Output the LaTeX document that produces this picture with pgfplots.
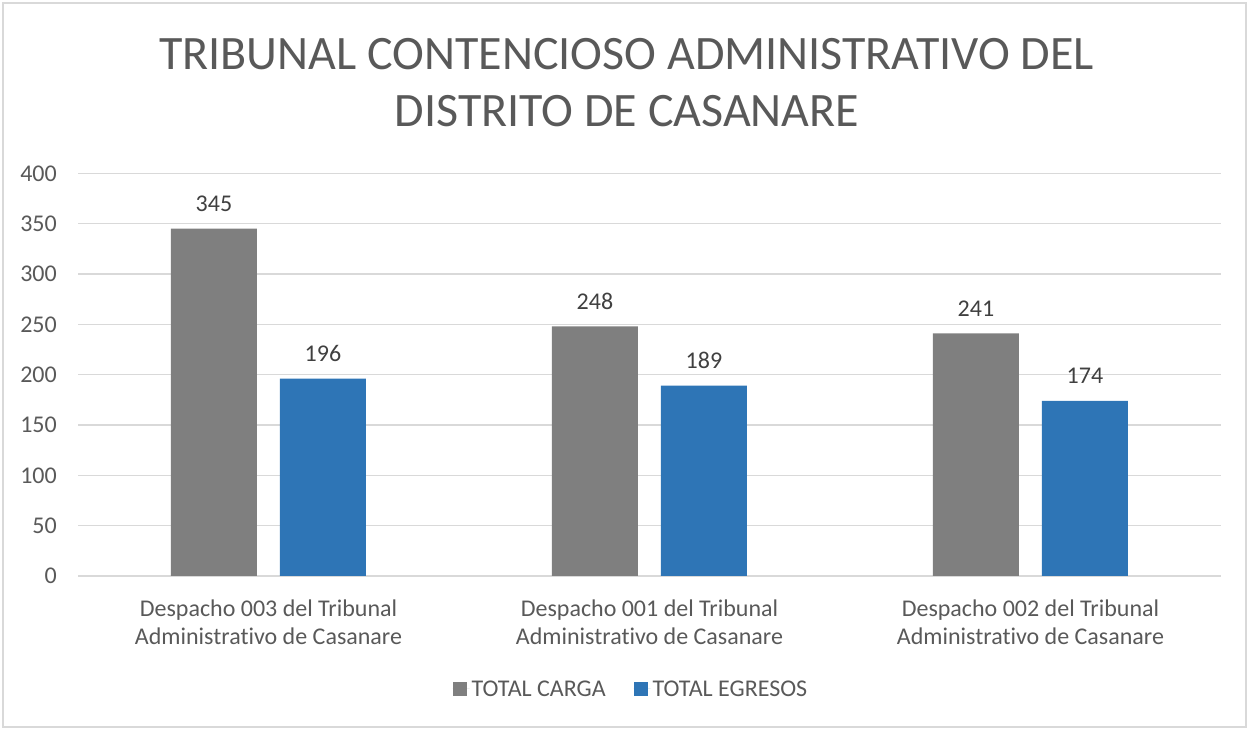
\documentclass[border=0pt]{standalone}
\usepackage{pgfplots}
\pgfplotsset{compat=1.18}
\usepackage{fontspec}
\setmainfont{Carlito}[Ligatures={NoCommon}]
\definecolor{textgray}{HTML}{595959}
\definecolor{labelgray}{HTML}{404040}
\definecolor{gridgray}{HTML}{D9D9D9}
\definecolor{bargray}{HTML}{7F7F7F}
\definecolor{barblue}{HTML}{2E75B6}
\begin{document}
\begin{tikzpicture}
\useasboundingbox (0bp,0bp) rectangle (1249bp,730bp);
\draw[gridgray, line width=1.5bp] (3bp,3bp) rectangle (1246bp,727bp);
\node[anchor=base, text=textgray, font=\fontsize{48bp}{57bp}\selectfont, inner sep=0] at (626.5bp,660bp) {TRIBUNAL CONTENCIOSO ADMINISTRATIVO DEL};
\node[anchor=base, text=textgray, font=\fontsize{48bp}{57bp}\selectfont, inner sep=0] at (627bp,603bp) {DISTRITO DE CASANARE};
\begin{axis}[
  at={(78bp,154bp)}, anchor=south west,
  scale only axis, width=1143bp, height=402.7bp,
  ymin=0, ymax=400, ytick={0,50,...,400},
  xmin=-0.5, xmax=2.5, xtick=data,
  xticklabels={{Despacho 003 del Tribunal\\Administrativo de Casanare},{Despacho 001 del Tribunal\\Administrativo de Casanare},{Despacho 002 del Tribunal\\Administrativo de Casanare}},
  ybar=23bp, bar width=86bp,
  axis line style={draw=none},
  major tick length=0,
  ymajorgrids, grid style={gridgray, line width=1.3bp},
  /pgf/number format/assume math mode=true,
  yticklabel style={font=\fontsize{24bp}{28bp}\selectfont, text=textgray, inner sep=0, xshift=-21bp},
  xticklabel style={font=\fontsize{24bp}{28bp}\selectfont, text=textgray, align=center, inner sep=0, anchor=north, yshift=-24bp},
  nodes near coords,
  every node near coord/.append style={font=\fontsize{24bp}{28bp}\selectfont, text=labelgray, anchor=base, yshift=17bp, inner sep=0},
  legend style={at={(0.4838,-0.2806)}, anchor=center, draw=none, fill=none, legend columns=2,
    font=\fontsize{24bp}{28bp}\selectfont, text=textgray,
    /tikz/every even column/.append style={column sep=26bp}},
  legend image code/.code={\fill[#1] (0bp,-7bp) rectangle (14bp,7bp); \path (0bp,0bp) -- (17bp,0bp);},
]
\addplot[fill=bargray, draw=none] coordinates {(0,345) (1,248) (2,241)};
\addplot[fill=barblue, draw=none] coordinates {(0,196) (1,189) (2,174)};
\legend{TOTAL CARGA, TOTAL EGRESOS}
\end{axis}
\end{tikzpicture}
\end{document}
